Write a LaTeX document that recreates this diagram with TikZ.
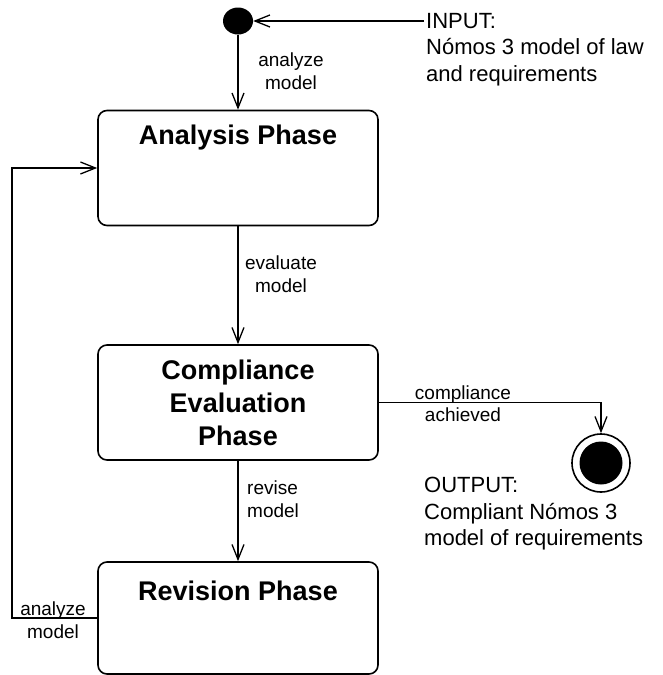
\documentclass[tikz,border=0pt]{standalone}
\usepackage{fontspec}
\setmainfont{Liberation Sans}
\usetikzlibrary{arrows.meta,shapes.geometric}

\begin{document}
\begin{tikzpicture}[x=1pt,y=-1pt,
  phase/.style={draw, line width=1.6pt, rounded corners=9pt, minimum width=280pt, inner sep=0pt},
  phasetitle/.style={font=\fontsize{27}{33}\selectfont\bfseries, align=center, inner sep=0pt},
  flow/.style={draw, line width=1.3pt, -{Straight Barb[length=15pt,width=12pt,line width=1.3pt]}},
  edgelabel/.style={font=\fontsize{19}{22.5}\selectfont, inner sep=0pt},
  note/.style={font=\fontsize{22}{26.5}\selectfont, align=left, anchor=north west, inner sep=0pt}
]
\useasboundingbox (0,0) rectangle (663,675);

% initial and final states
\node[ellipse, fill=black, minimum width=30pt, minimum height=27pt, inner sep=0pt] (start) at (238,21) {};
\node[circle, draw, line width=1.6pt, minimum size=58pt, inner sep=0pt] (stop) at (601,463) {};
\node[circle, fill=black, minimum size=43pt, inner sep=0pt] (stopdot) at (stop) {};

% phases
\node[phase, minimum height=115pt] (ana) at (238,168) {};
\node[phasetitle] (anatitle) at (238,138) {Analysis Phase};

\node[phase, minimum height=115pt] (comp) at (238,402.5) {};
\node[phasetitle] (comptitle) at (238,403) {Compliance\\Evaluation\\Phase};

\node[phase, minimum height=112pt] (rev) at (238,618) {};
\node[phasetitle] (revtitle) at (238,591) {Revision Phase};

% input and output notes
\coordinate (inp) at (424,21);
\node[note] (input) at (426,13) {INPUT:\\Nómos 3 model of law\\and requirements};
\node[note] (output) at (424,477) {OUTPUT:\\Compliant Nómos 3\\model of requirements};

% transitions
\draw[flow] (inp) -- (start.east);
\draw[flow] (start.south) -- (ana.north);
\draw[flow] (ana.south) -- (comp.north);
\draw[flow] (comp.south) -- (rev.north);
\draw[flow] (comp.east) -| (stop.north);
\coordinate (loopx) at (12,0);
\draw[flow] (rev.west) -- (rev.west -| loopx) |- (ana.west);

% transition labels
\node[edgelabel, align=center] (l1) at (291,71) {analyze\\model};
\node[edgelabel, align=center] (l2) at (281,274) {evaluate\\model};
\node[edgelabel, align=left, anchor=west] (l3) at (247,499) {revise\\model};
\node[edgelabel, align=center] (l4) at (463,403.5) {compliance\\achieved};
\node[edgelabel, align=center] (l5) at (53,620) {analyze\\model};
\end{tikzpicture}
\end{document}
